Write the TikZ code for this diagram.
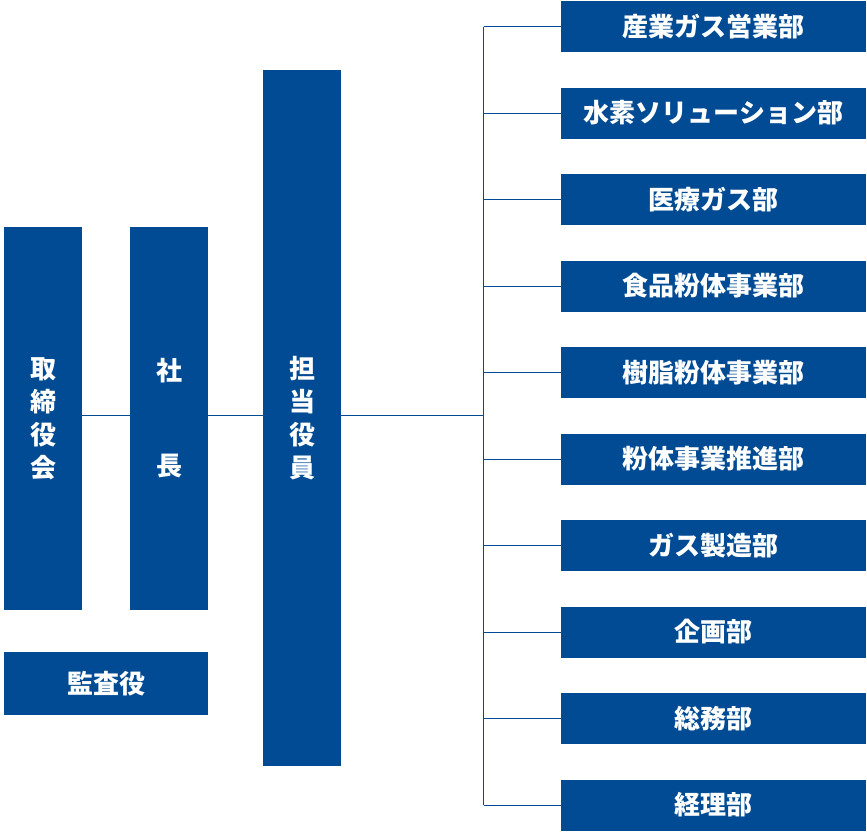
\documentclass[tikz,border=0pt]{standalone}
\usepackage{fontspec}
\newfontfamily\jpfont{Noto Sans CJK JP}
\usepackage{tikz}
\usetikzlibrary{positioning}
\definecolor{orgblue}{RGB}{0,75,147}

\begin{document}
\begin{tikzpicture}[x=1pt,y=-1pt,
    box/.style={fill=orgblue,text=white,inner sep=0pt,align=center,
      font={\jpfont\bfseries\fontsize{26}{33}\selectfont}},
    dept/.style={box,minimum width=305pt,minimum height=51pt},
    link/.style={draw=orgblue,line width=1pt}]
    \useasboundingbox (0,0) rectangle (867,836);
    % Left column
    \node[box,minimum width=78pt,minimum height=383pt] (board) at (43,418.5) {取\\締\\役\\会};
    \node[box,minimum width=78pt,minimum height=383pt] (pres) at (169,418.5) {社\\[62pt]長};
    \node[box,minimum width=204pt,minimum height=63pt] (audit) at (106,683.5) {監査役};
    \node[box,minimum width=78pt,minimum height=696pt] (officer) at (302,418) {担\\当\\役\\員};
    % Departments
    \node[dept] (d1) at (713.5,26.5) {産業ガス営業部};
    \node[dept] (d2) at (713.5,113) {水素ソリューション部};
    \node[dept] (d3) at (713.5,199.5) {医療ガス部};
    \node[dept] (d4) at (713.5,286) {食品粉体事業部};
    \node[dept] (d5) at (713.5,372.5) {樹脂粉体事業部};
    \node[dept] (d6) at (713.5,459) {粉体事業推進部};
    \node[dept] (d7) at (713.5,545.5) {ガス製造部};
    \node[dept] (d8) at (713.5,632) {企画部};
    \node[dept] (d9) at (713.5,718.5) {総務部};
    \node[dept] (d10) at (713.5,805) {経理部};
    % Lines
    \coordinate (bus) at (483.5,415);
    \draw[link] (board.east |- bus) -- (pres.west |- bus);
    \draw[link] (pres.east |- bus) -- (officer.west |- bus);
    \draw[link] (officer.east |- bus) -- (bus);
    \draw[link] (bus |- d1.west) -- (bus |- d10.west);
    \foreach \i in {1,...,10}
      \draw[link] (bus |- d\i.west) -- (d\i.west);
\end{tikzpicture}
\end{document}
